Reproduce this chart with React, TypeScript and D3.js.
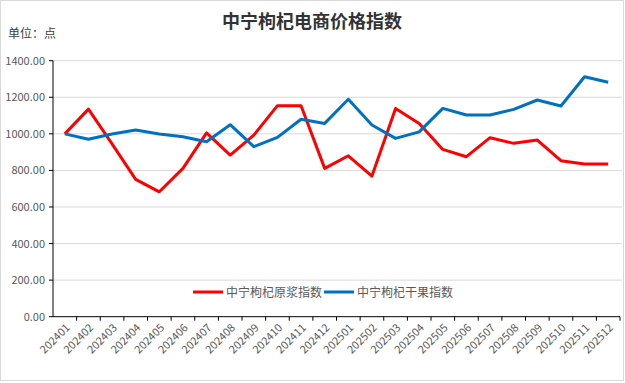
import React from "react";
import * as d3 from "d3";

const categories = [
  "202401","202402","202403","202404","202405","202406","202407","202408","202409","202410","202411","202412",
  "202501","202502","202503","202504","202505","202506","202507","202508","202509","202510","202511","202512",
];
const seriesNames = ["中宁枸杞原浆指数", "中宁枸杞干果指数"];
const pulpIndex = [1000, 1135, 945, 751, 683, 811, 1005, 884, 993, 1154, 1154, 811, 880, 769, 1139, 1057, 915, 875, 979, 948, 966, 853, 835, 835];
const driedIndex = [1000, 970, 999, 1021, 999, 984, 957, 1050, 930, 981, 1080, 1057, 1189, 1048, 975, 1011, 1139, 1103, 1103, 1134, 1185, 1152, 1312, 1282];
const yTicks = [0, 200, 400, 600, 800, 1000, 1200, 1400];
const colors = ["#FF0000", "#0070C0"];

export default function App() {
  const W = 625, H = 383;
  const left = 53, right = 620, top = 60.7, bottom = 316.7;
  const x = d3.scaleBand<string>().domain(categories).range([left, right]);
  const y = d3.scaleLinear().domain([0, 1400]).range([bottom, top]);
  const line = d3.line<number>()
    .x((_, i) => (x(categories[i]) as number) + x.bandwidth() / 2)
    .y((d) => y(d));
  const series = [pulpIndex, driedIndex];
  const font = "'Microsoft YaHei', 'Noto Sans CJK SC', 'Noto Sans', sans-serif";
  const legendX = [193, 324];
  return (
    <svg width={W} height={H} style={{ position: "absolute", left: 0, top: 0 }} fontFamily={font}>
      <rect x={0.5} y={0.5} width={W - 2} height={H - 3} fill="#fff" stroke="#d9d9d9" />
      <text x={312} y={28} textAnchor="middle" fontSize={18} fontWeight="bold" fill="#333"
        fontFamily="'Noto Sans CJK SC', serif">中宁枸杞电商价格指数</text>
      <text x={8} y={38} fontSize={12} fill="#404040">单位：点</text>
      {yTicks.map((t) => (
        <g key={t}>
          {t > 0 && <line x1={left} x2={right + 2} y1={y(t)} y2={y(t)} stroke="#d9d9d9" />}
          <line x1={left - 4} x2={left} y1={y(t)} y2={y(t)} stroke="#000" />
          <text x={45} y={y(t) + 4} textAnchor="end" fontSize={11} fill="#595959">{t.toFixed(2)}</text>
        </g>
      ))}
      <line x1={left} x2={left} y1={top} y2={bottom} stroke="#000" />
      <line x1={left} x2={right} y1={bottom} y2={bottom} stroke="#000" />
      {categories.map((c, i) => (
        <line key={"t" + c} x1={(x(c) as number) + x.bandwidth()} x2={(x(c) as number) + x.bandwidth()}
          y1={bottom} y2={bottom + 4} stroke="#000" />
      ))}
      {categories.map((c) => {
        const cx = (x(c) as number) + x.bandwidth() / 2 + 3;
        const cy = bottom + 9;
        return (
          <text key={c} x={cx} y={cy} textAnchor="end" fontSize={11} fill="#595959"
            transform={`rotate(-45, ${cx}, ${cy})`} dy="0.35em">{c}</text>
        );
      })}
      {series.map((s, i) => (
        <path key={i} d={line(s) || ""} fill="none" stroke={colors[i]} strokeWidth={3} strokeLinejoin="round" />
      ))}
      {seriesNames.map((n, i) => (
        <g key={n}>
          <line x1={legendX[i]} x2={legendX[i] + 30} y1={292} y2={292} stroke={colors[i]} strokeWidth={3} />
          <text x={legendX[i] + 33} y={296.5} fontSize={12} fill="#595959">{n}</text>
        </g>
      ))}
    </svg>
  );
}
